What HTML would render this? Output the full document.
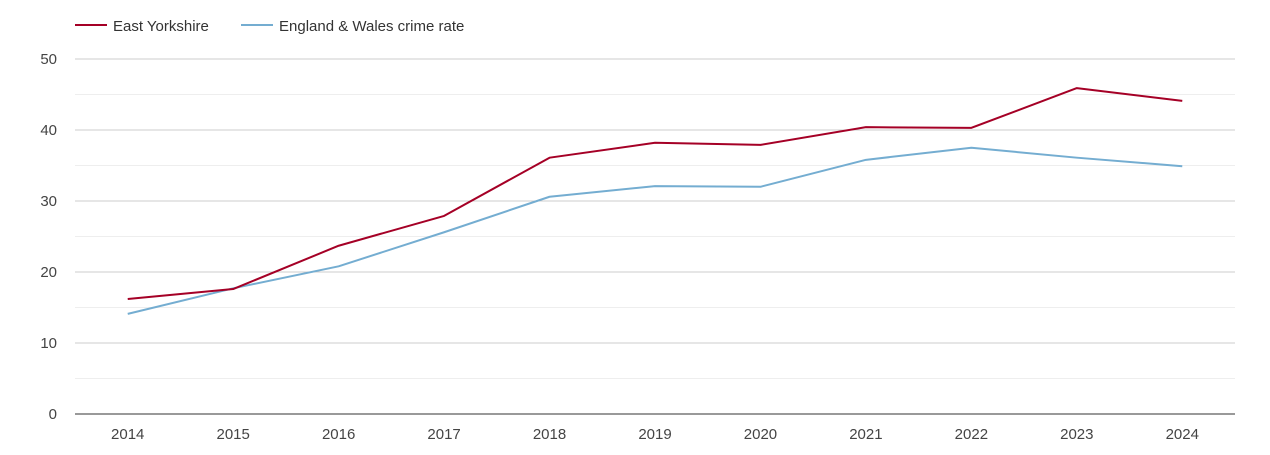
<!DOCTYPE html>
<html><head><meta charset="utf-8"><style>
body{margin:0;background:#fff;font-family:"Liberation Sans",sans-serif;}
svg text{font-family:"Liberation Sans",sans-serif;}
</style></head><body>
<svg id="chart" width="1270" height="450">
<g>
<line x1="75" y1="25" x2="107" y2="25" stroke="#a50026" stroke-width="2"/>
<text x="113" y="31" font-size="15" fill="#333">East Yorkshire</text>
<line x1="241" y1="25" x2="273" y2="25" stroke="#74add1" stroke-width="2"/>
<text x="279" y="31" font-size="15" fill="#333">England &amp; Wales crime rate</text>
</g>
</svg>
<script>
const years=[2014,2015,2016,2017,2018,2019,2020,2021,2022,2023,2024];
const eastYorkshire=[16.2,17.6,23.7,27.9,36.1,38.2,37.9,40.4,40.3,45.9,44.1];
const englandWales=[14.1,17.7,20.8,25.6,30.6,32.1,32.0,35.8,37.5,36.1,34.9];
const yTicks=[0,10,20,30,40,50];
const NS="http://www.w3.org/2000/svg";
const svg=document.getElementById('chart');
const x0=75,x1=1235,yTop=59,yBot=414,yMax=50;
const step=(x1-x0)/years.length;
const xs=i=>x0+step*(i+0.5);
const ys=v=>yBot-(v/yMax)*(yBot-yTop);
function mk(t,a){const e=document.createElementNS(NS,t);for(const k in a)e.setAttribute(k,a[k]);svg.appendChild(e);return e;}
for(let v=5;v<yMax;v+=10){
const l=mk('line',{x1:x0,x2:x1,y1:ys(v),y2:ys(v),stroke:'#eeeeee','stroke-width':1});


}
yTicks.forEach(v=>{
const l=mk('line',{x1:x0,x2:x1,y1:ys(v),y2:ys(v),stroke:v===0?'#333':'#cccccc','stroke-width':1});


const t=mk('text',{x:57,y:ys(v)+5,'font-size':15,fill:'#444','text-anchor':'end'});
t.textContent=v;


});
years.forEach((y,i)=>{
const t=mk('text',{x:xs(i),y:439,'font-size':15,fill:'#444','text-anchor':'middle'});
t.textContent=y;


});
function line(data,color,name){
const p=mk('polyline',{points:data.map((v,i)=>xs(i)+','+ys(v)).join(' '),fill:'none',stroke:color,'stroke-width':2,'stroke-linejoin':'round'});


}
line(englandWales,'#74add1','england-wales-line');
line(eastYorkshire,'#a50026','east-yorkshire-line');
</script>
</body></html>
